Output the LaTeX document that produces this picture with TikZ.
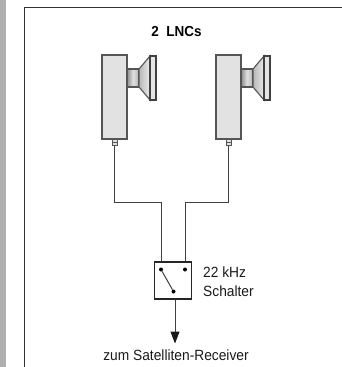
\documentclass[tikz,border=0pt]{standalone}
\usepackage{fontspec}
\setmainfont[FakeStretch=0.93]{Liberation Sans}
\usetikzlibrary{arrows.meta}
\definecolor{bargray}{HTML}{B0B0B0}
\definecolor{linegray}{HTML}{555555}
\definecolor{bodygray}{HTML}{E2E2E2}
\tikzset{
	label text/.style={inner sep=0, font=\fontsize{14.8}{16}\selectfont, text=black!90},
	lnc body/.style={draw=linegray, fill=bodygray, line width=1.1pt, minimum width=25pt, minimum height=84pt, inner sep=0},
	lnc stub/.style={draw=linegray, fill=bodygray, line width=1pt, minimum width=5pt, minimum height=6.5pt, inner sep=0},
	contact/.style={circle, fill=black, minimum size=4pt, inner sep=0},
	wire/.style={draw=black!75, line width=1pt}
}
\begin{document}
\begin{tikzpicture}[x=1pt, y=-1pt]
		\useasboundingbox (0,0) rectangle (342,367);
		\fill[bargray] (0,0) rectangle (6,367);
		\draw[black!80, line width=1.5pt] (24.5,367) -- (24.5,7.5) -- (342,7.5);
		\node[inner sep=0, anchor=base, font=\fontsize{14.5}{16}\bfseries\selectfont] (title) at (176.5,36) {2\ \ LNCs};
		% the two LNCs
		\foreach \n/\x in {a/102, b/216} {
			\node[lnc body] (body\n) at (\x+12.5,97) {};
			\node[lnc stub] (stub\n) at (\x+12.5,142.5) {};
			\draw[linegray, line width=0.6pt] (\x+10,142) -- (\x+15,142);
			\draw[linegray, line width=1.1pt, left color=black!45, right color=black!30, middle color=black!12] (\x+25,69) rectangle (\x+37,87);
			\draw[linegray, line width=1.1pt, left color=black!28, right color=black!8] (\x+37,69) -- (\x+48,56) -- (\x+48,100) -- (\x+37,87) -- cycle;
			\draw[black!75, line width=1.1pt, fill=black!10] (\x+48,56) rectangle (\x+54,100);
		}
		% switch
		\node[draw=black!85, line width=1.3pt, fill=white, minimum width=37.5pt, minimum height=37pt, inner sep=0] (switch) at (173,280.5) {};
		\node[contact] (c1) at (161,269.5) {};
		\node[contact] (c2) at (185,269.5) {};
		\node[contact] (c3) at (173.5,291.5) {};
		\draw[wire] (c1) -- (c3);
		\coordinate (ka) at (161,202.5);
		\coordinate (kb) at (185,202.5);
		\draw[wire] (stuba) -- (stuba |- ka) -- (ka) -- (ka |- switch.north);
		\draw[wire] (stubb) -- (stubb |- kb) -- (kb) -- (kb |- switch.north);
		\node[label text, anchor=base] (receiver) at (176,360) {zum Satelliten-Receiver};
		\draw[wire, -{Triangle[length=12pt, width=9pt, fill=black!90, color=black!90]}] ([xshift=2pt]switch.south) -- ([xshift=-1pt]receiver.north |- 0,343.5);
		\node[label text, anchor=base west] (khz) at (203,277) {22 kHz};
		\node[label text, anchor=base west] (schalter) at (203,296.5) {Schalter};
	\end{tikzpicture}
\end{document}
